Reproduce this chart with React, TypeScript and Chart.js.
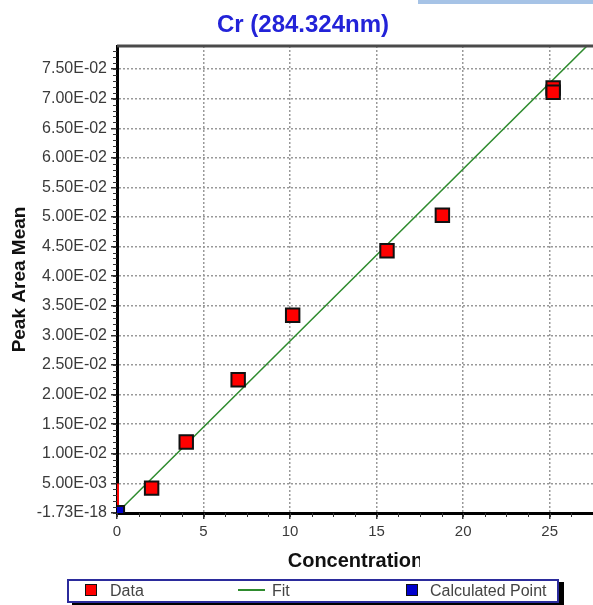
import React, { useEffect, useRef } from "react";
import { Chart, registerables } from "chart.js";

Chart.register(...registerables);

// ---- data ----
const dataX = [2.0, 4.0, 7.0, 10.15, 15.6, 18.8, 25.2, 25.2];
const dataY = [0.0042, 0.012, 0.0225, 0.0334, 0.0443, 0.0503, 0.0718, 0.0711];
const fitX = [0, 27.6];
const fitY = [0, 0.0802];
const calcX = [0];
const calcY = [0];
const blankX = [0, 0];
const blankY = [0, 0.005];

const xTicks = [0, 5, 10, 15, 20, 25];
const xTickLabels = ["0", "5", "10", "15", "20", "25"];
const yTicks = [0, 0.005, 0.01, 0.015, 0.02, 0.025, 0.03, 0.035, 0.04, 0.045, 0.05, 0.055, 0.06, 0.065, 0.07, 0.075];
const yTickLabels = [
  "-1.73E-18", "5.00E-03", "1.00E-02", "1.50E-02", "2.00E-02", "2.50E-02", "3.00E-02", "3.50E-02",
  "4.00E-02", "4.50E-02", "5.00E-02", "5.50E-02", "6.00E-02", "6.50E-02", "7.00E-02", "7.50E-02",
];

const X_MIN = 0;
const X_MAX = 27.56;
const Y_MIN = 0;
const Y_MAX = 0.0789;
const X_MINOR = 1.25;
const Y_MINOR = 0.001;

const FONT = "'Liberation Sans', Arial, sans-serif";
const TICK_COLOR = "#3a3a3a";

const pts = (xs: number[], ys: number[]) => xs.map((x, i) => ({ x, y: ys[i] }));

const framePlugin = {
  id: "frame",
  afterDraw(chart: any) {
    const { ctx, chartArea: a, scales } = chart;
    const x = scales.x;
    const y = scales.y;
    ctx.save();
    ctx.strokeStyle = "#333";
    ctx.lineWidth = 1;
    ctx.beginPath();
    for (let i = 0; i * Y_MINOR <= Y_MAX; i++) {
      const py = Math.round(y.getPixelForValue(i * Y_MINOR)) + 0.5;
      ctx.moveTo(a.left - 4, py);
      ctx.lineTo(a.left, py);
    }
    for (let i = 0; i * X_MINOR <= X_MAX; i++) {
      const px = Math.round(x.getPixelForValue(i * X_MINOR)) + 0.5;
      ctx.moveTo(px, a.bottom);
      ctx.lineTo(px, a.bottom + 4);
    }
    ctx.stroke();
    ctx.strokeStyle = "#4a4a4a";
    ctx.lineWidth = 3;
    ctx.beginPath();
    ctx.moveTo(a.left, a.top);
    ctx.lineTo(a.right + 20, a.top);
    ctx.stroke();
    ctx.restore();
  },
};

export default function App() {
  const ref = useRef<HTMLCanvasElement | null>(null);

  useEffect(() => {
    if (!ref.current) return;
    const chart = new Chart(ref.current, {
      type: "scatter",
      data: {
        datasets: [
          {
            label: "Calculated Point",
            data: pts(calcX, calcY),
            pointStyle: "rect",
            pointRadius: 10,
            backgroundColor: "#0000cc",
            borderColor: "#111",
            borderWidth: 2,
            clip: 0,
          } as any,
          {
            label: "Data",
            data: pts(dataX, dataY),
            pointStyle: "rect",
            pointRadius: 9.5,
            backgroundColor: "#ff0000",
            borderColor: "#111",
            borderWidth: 2,
          },
          {
            label: "Blank",
            data: pts(blankX, blankY),
            showLine: true,
            pointRadius: 0,
            borderColor: "#ff0000",
            borderWidth: 4,
            clip: 0,
          } as any,
          {
            label: "Fit",
            data: pts(fitX, fitY),
            showLine: true,
            pointRadius: 0,
            borderColor: "#2e8b2e",
            borderWidth: 1.5,
            clip: 0,
          } as any,
        ],
      },
      options: {
        animation: false,
        responsive: false,
        devicePixelRatio: 1,
        layout: { padding: 0 },
        plugins: {
          legend: { display: false },
          tooltip: { enabled: false },
          title: {
            display: true,
            text: "Cr (284.324nm)",
            color: "#2323d8",
            font: { family: FONT, size: 24, weight: "bold" },
            padding: { top: 10.6, bottom: 6.6 },
          },
        },
        scales: {
          x: {
            type: "linear",
            min: X_MIN,
            max: X_MAX,
            afterBuildTicks: (s: any) => {
              s.ticks = xTicks.map((v) => ({ value: v }));
            },
            afterFit: (s: any) => {
              s.height = 92;
            },
            ticks: {
              callback: (_v: any, i: number) => xTickLabels[i],
              color: TICK_COLOR,
              font: { family: FONT, size: 15 },
              padding: 4,
              autoSkip: false,
              maxRotation: 0,
            },
            grid: { color: "#999", lineWidth: 1.5, tickColor: "#333", tickLength: 6, tickWidth: 1.5 },
            border: { color: "#000", width: 3, dash: [2, 2] },
            title: {
              display: true,
              text: "Concentration",
              color: "#111",
              font: { family: FONT, size: 20, weight: "bold" },
              padding: { top: 0, bottom: 32 },
            },
          } as any,
          y: {
            type: "linear",
            min: Y_MIN,
            max: Y_MAX,
            afterBuildTicks: (s: any) => {
              s.ticks = yTicks.map((v) => ({ value: v }));
            },
            afterFit: (s: any) => {
              s.width = 117;
            },
            ticks: {
              callback: (_v: any, i: number) => yTickLabels[i],
              color: TICK_COLOR,
              font: { family: FONT, size: 16 },
              padding: 4,
              autoSkip: false,
            },
            grid: { color: "#999", lineWidth: 1.5, tickColor: "#333", tickLength: 6, tickWidth: 1.5 },
            border: { color: "#000", width: 3, dash: [2, 2] },
            title: {
              display: true,
              text: "Peak Area Mean",
              color: "#111",
              font: { family: FONT, size: 19, weight: "bold" },
              padding: { top: 8, bottom: 0 },
            },
          } as any,
        },
      },
      plugins: [framePlugin],
    });
    return () => chart.destroy();
  }, []);

  const legendText: React.CSSProperties = {
    position: "absolute",
    top: 0,
    lineHeight: "20px",
    fontSize: 16,
    color: "#444",
    whiteSpace: "nowrap",
  };

  return (
    <div
      style={{
        position: "fixed",
        left: 0,
        top: 0,
        width: 593,
        height: 605,
        background: "#fff",
        overflow: "hidden",
        fontFamily: FONT,
      }}
    >
      <canvas ref={ref} width={606} height={605} style={{ position: "absolute", left: 0, top: 0 }} />
      <div style={{ position: "absolute", left: 418, top: 0, width: 175, height: 4, background: "#a6c3e6" }} />
      <div style={{ position: "absolute", left: 420, top: 546, width: 90, height: 28, background: "#fff" }} />
      <div
        style={{
          position: "absolute",
          left: 67,
          top: 579,
          width: 488,
          height: 20,
          border: "2px solid #2b2b9c",
          boxShadow: "5px 3px 0 #000",
          background: "#fff",
        }}
      >
        <div
          style={{
            position: "absolute",
            left: 16,
            top: 3,
            width: 10,
            height: 10,
            background: "#ff0000",
            border: "1.5px solid #111",
          }}
        />
        <span style={{ ...legendText, left: 41 }}>Data</span>
        <div style={{ position: "absolute", left: 169, top: 8, width: 27, height: 2, background: "#2e8b2e" }} />
        <span style={{ ...legendText, left: 203 }}>Fit</span>
        <div
          style={{
            position: "absolute",
            left: 337,
            top: 3,
            width: 10,
            height: 10,
            background: "#0000cc",
            border: "1.5px solid #111",
          }}
        />
        <span style={{ ...legendText, left: 361 }}>Calculated Point</span>
      </div>
    </div>
  );
}
